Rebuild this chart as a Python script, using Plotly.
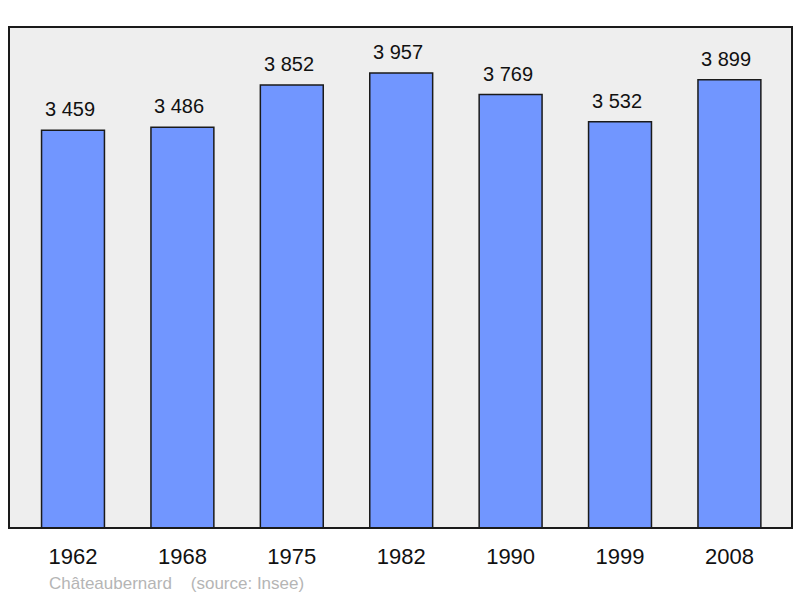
import plotly.graph_objects as go

# population figures for Châteaubernard (Insee)
years = ["1962", "1968", "1975", "1982", "1990", "1999", "2008"]
population = [3459, 3486, 3852, 3957, 3769, 3532, 3899]
labels = [f"{v:,}".replace(",", " ") for v in population]

fig = go.Figure(
    go.Bar(
        x=years,
        y=population,
        width=0.575,
        marker=dict(color="#7196ff", line=dict(color="#1a1a1a", width=1.5)),
        hoverinfo="x+y",
    )
)

# value labels above each bar (category index for x)
for i, (v, lab) in enumerate(zip(population, labels)):
    fig.add_annotation(
        x=i, y=v, text=lab, showarrow=False, yanchor="bottom", yshift=8, xshift=-3,
        font=dict(size=20, color="#111111"),
    )

fig.add_annotation(
    x=38 / 783, y=-(583 - 528) / 501, xref="paper", yref="paper",
    text="Châteaubernard&nbsp;&nbsp;&nbsp;&nbsp;(source: Insee)",
    showarrow=False, xanchor="left", yanchor="middle",
    font=dict(size=17, color="#b5b5b5"),
)

fig.add_shape(
    type="rect", xref="paper", yref="paper", x0=0, x1=1, y0=0, y1=1,
    line=dict(color="#1a1a1a", width=2),
)

fig.update_layout(
    width=800,
    height=598,
    margin=dict(l=9, r=8, t=27, b=70),
    paper_bgcolor="white",
    plot_bgcolor="#eeeeee",
    font=dict(family="Liberation Sans, Arial, sans-serif"),
    showlegend=False,
    xaxis=dict(
        type="category", range=[-0.585, 6.572], showgrid=False, zeroline=False,
        tickfont=dict(size=22, color="#111111"), ticklabelstandoff=13,
    ),
    yaxis=dict(range=[0, 4357], visible=False, showgrid=False),
)

fig.write_html(
    "out.html",
    config={"displayModeBar": False},
    post_script="document.body.style.margin='0';",
)
